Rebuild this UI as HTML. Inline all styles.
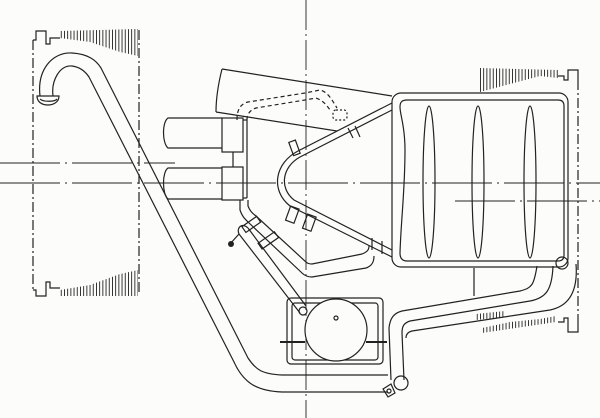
<!DOCTYPE html>
<html><head><style>html,body{margin:0;padding:0;background:#fcfcfa}svg{display:block}</style></head>
<body>
<svg width="600" height="418" viewBox="0 0 600 418" xmlns="http://www.w3.org/2000/svg">
<defs>
<pattern id="fin" width="3.2" height="10" patternUnits="userSpaceOnUse"><rect x="0" y="0" width="0.9" height="10" fill="#222"/></pattern>
</defs>
<rect width="600" height="418" fill="#fcfcfa"/>
<g fill="none" stroke="#222" stroke-width="1.2">
<!-- center lines -->
<line x1="306" y1="0" x2="306" y2="418" stroke-dasharray="30,4,2,4" stroke-width="0.9"/>
<line x1="0" y1="163" x2="175" y2="163" stroke-dasharray="60,5,2,5" stroke-width="0.9"/>
<line x1="0" y1="183" x2="600" y2="183" stroke-dasharray="60,5,2,5" stroke-width="0.9"/>
<line x1="455" y1="201" x2="600" y2="201" stroke-dasharray="60,5,2,5" stroke-width="0.9"/>

<!-- left cylinder -->
<path d="M33 40 V290" stroke-dasharray="10,3,2,3"/>
<path d="M33 40 H36 V31 H46 V44 H50 V38 H60"/>
<path d="M33 290 H36 V296 H46 V282 H50 V288 H60"/>
<line x1="139" y1="30" x2="139" y2="295" stroke-dasharray="10,3,2,3"/>
<!-- right cylinder -->
<path d="M578 80 V320" stroke-dasharray="10,3,2,3"/>
<path d="M578 80 V70 H568 V80 H564 V76 H558"/>
<path d="M578 320 V332 H568 V318 H564 V322 H558"/>
</g>
<!-- fins -->
<polygon points="60,31 138,29 138,56 120,52 90,42 60,38" fill="url(#fin)"/>
<polygon points="60,290 90,285 120,274 138,270 138,296 60,296" fill="url(#fin)"/>
<polygon points="480,68 558,70 558,78 540,76 510,84 480,92" fill="url(#fin)"/>
<polygon points="482,328 510,322 540,319 556,316 556,322 482,333" fill="url(#fin)"/>
<polygon points="476,314 505,311 505,317 476,320" fill="url(#fin)"/>
<g fill="none" stroke="#222" stroke-width="1.2">
<!-- left J pipe -->
<path d="M40 96 C37 70 52 52 72 53 C88 54 96 60 101 68 L248 358 C256 370 262 374 282 375 L388 375"/>
<path d="M53 96 C51 80 60 65 72 66 C80 67 85 71 89 77 L234 362 C244 384 258 391 282 392 L388 392"/>
<path d="M37 96 H59 C59 103 52 105 48 105 C42 105 37 102 37 96 Z"/>
<path d="M40 99 C43 102 55 102 57 99"/>
<!-- upper muffler funnel -->
<path d="M222 69 L392 96 M216 112 L337 131 M222 69 C218 85 216 100 216 112"/>
<path d="M237 120 C237 110 240 104 248 102 L305 93 L320 90 C328 92 332 100 337 108" stroke-dasharray="4,3"/>
<path d="M247 120 C247 114 250 110 256 108 L305 100 L316 98 C322 100 326 104 330 110" stroke-dasharray="4,3"/>
<rect x="333" y="110" width="14" height="10" rx="3" stroke-dasharray="2,2"/>
<!-- intake pipes -->
<path d="M222 118 H168 C162 122 162 143 168 148 H222"/>
<path d="M222 168 H168 C162 172 162 194 168 199 H222"/>
<rect x="222" y="118" width="21" height="34"/>
<rect x="222" y="167" width="21" height="33"/>
<line x1="243" y1="120" x2="247" y2="120"/><line x1="243" y1="198" x2="247" y2="198"/>
<line x1="247" y1="120" x2="247" y2="198"/>
<line x1="233" y1="152" x2="233" y2="167"/>
<!-- header pipe lower -->
<path d="M240 200 V210 C242 216 244 218 248 222 L302 273 C305 276 308 277 312 277 L366 268 C372 266 374 262 374 256"/>
<path d="M248 200 V206 C250 211 252 213 256 216 L306 262 C308 264 310 264 312 264 L362 254 C367 252 369 250 369 246"/>
<!-- cone -->
<path d="M392 103 L298 151 C275 163 270 190 290 206 L392 257"/>
<path d="M392 110 L300 157 C282 167 279 188 294 200 L392 250"/>
<rect x="291" y="141" width="7" height="14" transform="rotate(-20 294 148)"/>
<rect x="288" y="207" width="9" height="15" transform="rotate(20 292 214)"/>
<rect x="305" y="215" width="9" height="15" transform="rotate(20 309 222)"/>
<line x1="348" y1="128" x2="353" y2="138"/><line x1="355" y1="126" x2="360" y2="137"/>
<line x1="372" y1="238" x2="372" y2="250"/><line x1="382" y1="241" x2="382" y2="254"/>
<!-- muffler -->
<rect x="392" y="93" width="176" height="174" rx="9"/>
<path d="M407 100 H558 C562 100 564 102 564 106 V255 C564 259 562 261 558 261 H407 C402 261 400 258 400 253 C401 220 405 190 405 150 C405 125 400 115 400 107 C400 102 402 100 407 100 Z"/>
<ellipse cx="429" cy="182" rx="6" ry="76"/>
<ellipse cx="478" cy="182" rx="6" ry="76"/>
<ellipse cx="530" cy="182" rx="6" ry="76"/>
<!-- right exhaust pipe -->
<path d="M537 266 C534 285 532 288 520 291 L402 311 C394 313 390 318 389 328 L391 380"/>
<path d="M553 266 C552 290 546 298 530 301 L410 321 C404 323 402 326 402 333 L404 380"/>
<path d="M576 264 C578 290 570 306 550 310 L412 331 C408 332 406 334 406 338"/>
<circle cx="562" cy="263" r="6"/>
<circle cx="401" cy="383" r="7"/>
<path d="M383 389 L391 384 L395 393 L388 397 Z"/>
<circle cx="389" cy="391" r="2"/>
<line x1="474" y1="268" x2="474" y2="296"/>
<!-- oil tank -->
<rect x="287" y="298" width="96" height="66" rx="4"/>
<rect x="292" y="303" width="86" height="57" rx="3"/>
<circle cx="336" cy="330" r="31" fill="#fcfcfa"/>
<circle cx="336" cy="318" r="2"/>
<line x1="280" y1="342" x2="305" y2="342" stroke-width="2"/>
<line x1="366" y1="342" x2="387" y2="342" stroke-width="2"/>
<!-- pipe to tank -->
<path d="M239 234 L300 313"/><path d="M248 228 L306 306"/>
<path d="M239 234 C236 228 242 222 248 228"/>
<circle cx="303" cy="311" r="4"/>
<rect x="242" y="221" width="18" height="7" transform="rotate(-35 251 224)"/>
<rect x="258" y="237" width="20" height="7" transform="rotate(-35 268 240)"/>
<line x1="230" y1="244" x2="239" y2="234"/>
</g>
<circle cx="231" cy="244" r="3" fill="#222"/>
</svg>
</body></html>
